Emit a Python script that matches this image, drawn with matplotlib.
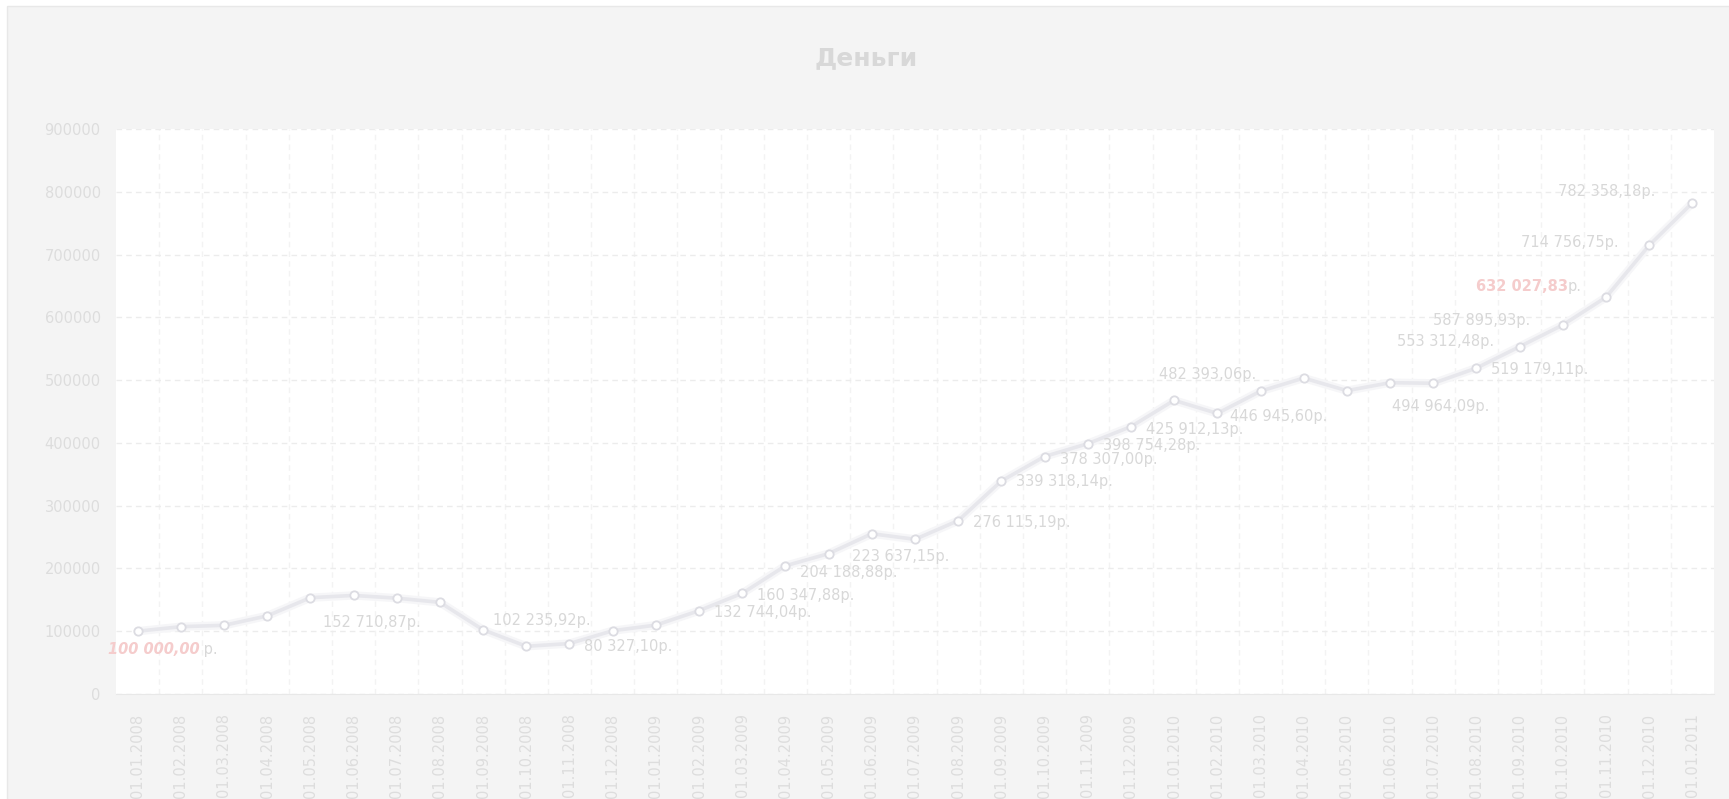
import numpy as np
import matplotlib.pyplot as plt
from matplotlib.patches import Rectangle

# Month starts (categories)
dates = ["01.01.2008", "01.02.2008", "01.03.2008", "01.04.2008", "01.05.2008", "01.06.2008",
         "01.07.2008", "01.08.2008", "01.09.2008", "01.10.2008", "01.11.2008", "01.12.2008",
         "01.01.2009", "01.02.2009", "01.03.2009", "01.04.2009", "01.05.2009", "01.06.2009",
         "01.07.2009", "01.08.2009", "01.09.2009", "01.10.2009", "01.11.2009", "01.12.2009",
         "01.01.2010", "01.02.2010", "01.03.2010", "01.04.2010", "01.05.2010", "01.06.2010",
         "01.07.2010", "01.08.2010", "01.09.2010", "01.10.2010", "01.11.2010", "01.12.2010",
         "01.01.2011"]

# Money values (labelled ones read from the labels, others estimated)
money = [100000.00, 107200, 109400, 124400, 153400, 157000,
         152710.87, 146000, 102235.92, 76000, 80327.10, 100800,
         109700, 132744.04, 160347.88, 204188.88, 223637.15, 255300,
         246400, 276115.19, 339318.14, 378307.00, 398754.28, 425912.13,
         467800, 446945.60, 482393.06, 503300, 483200, 495900,
         494964.09, 519179.11, 553312.48, 587895.93, 632027.83, 714756.75,
         782358.18]

y_ticks = [0, 100000, 200000, 300000, 400000, 500000, 600000, 700000, 800000, 900000]

# which points get a grey value label: index -> (dx px, dy px, ha)
label_pos = {
    6: (-74, -24, "left"),
    8: (10, 9, "left"),
    10: (15, -3, "left"),
    13: (15, -2, "left"),
    14: (15, -2, "left"),
    15: (15, -7, "left"),
    16: (23, -3, "left"),
    19: (15, -2, "left"),
    20: (15, -1, "left"),
    21: (15, -3, "left"),
    22: (15, -2, "left"),
    23: (15, -3, "left"),
    25: (13, -3, "left"),
    26: (-4, 17, "right"),
    30: (-41, -23, "left"),
    31: (15, -1, "left"),
    32: (-26, 5, "right"),
    33: (-33, 4, "right"),
    35: (-31, 3, "right"),
    36: (-37, 11, "right"),
}


def rub(v):
    return f"{v:,.2f}".replace(",", " ").replace(".", ",")


W, H = 1729, 799
fig = plt.figure(figsize=(W / 100, H / 100), dpi=100, facecolor="white")

# grey panel behind everything
fig.patches.append(Rectangle((7 / W, -0.01), 1, 1 - 6 / H + 0.01, transform=fig.transFigure,
                             facecolor="#f4f4f4", edgecolor="#e8e8e8", lw=1, zorder=-10))

ax = fig.add_axes([116 / W, 1 - 694 / H, (1714 - 116) / W, (694 - 129) / H])
ax.set_facecolor("white")

x = np.arange(len(dates))
# faint shadow under the line
ax.plot(x, money, color="#f6f6f8", lw=6, solid_capstyle="round", zorder=2)
ax.plot(x, money, color="#e7e7ec", lw=2.6, marker="o", ms=6, mfc="white",
        mec="#dcdce2", mew=1.3, zorder=3)

ax.set_xlim(-0.5, len(dates) - 0.5)
ax.set_ylim(0, 900000)
ax.set_yticks(y_ticks)
ax.set_yticklabels([str(v) for v in y_ticks])
ax.set_xticks(x)
ax.set_xticklabels(dates, rotation=90)
ax.set_xticks(np.arange(0.5, len(dates) - 1), minor=True)

ax.tick_params(axis="both", which="both", length=0, colors="#dddddd", labelsize=10.5)
ax.tick_params(axis="y", pad=11)
ax.tick_params(axis="x", pad=14)

ax.grid(axis="y", which="major", color="#ececec", ls=(0, (4, 3)), lw=1)
ax.grid(axis="x", which="minor", color="#f3f3f3", ls=(0, (4, 3)), lw=1)
ax.set_axisbelow(True)

for s in ["top", "left", "right"]:
    ax.spines[s].set_visible(False)
ax.spines["bottom"].set_color("#e8e8e8")

# grey value labels
for i, (dx, dy, ha) in label_pos.items():
    ax.annotate(rub(money[i]) + "р.", (i, money[i]), xytext=(dx, dy),
                textcoords="offset pixels", ha=ha, va="center",
                fontsize=10.5, color="#d8d8d8", zorder=4)

# highlighted first value
r0 = ax.annotate(rub(money[0]), (0, money[0]), xytext=(-30, -18),
                 textcoords="offset pixels", ha="left", va="center", fontsize=10.5,
                 color="#f5cccc", fontweight="bold", style="italic", zorder=4)
ax.annotate(" р.", xy=(1, 0.5), xycoords=r0, ha="left", va="center",
            fontsize=10.5, color="#d8d8d8")

# highlighted current value
r1 = ax.annotate(rub(money[34]), (34, money[34]), xytext=(-130, 11),
                 textcoords="offset pixels", ha="left", va="center", fontsize=10.5,
                 color="#f5cccc", fontweight="bold", zorder=4)
ax.annotate("р.", xy=(1, 0.5), xycoords=r1, ha="left", va="center",
            fontsize=10.5, color="#d8d8d8")

fig.text(866 / W, 1 - 58 / H, "Деньги", ha="center", va="center",
         fontsize=18, fontweight="bold", color="#d8d8d8")

fig.savefig("out.png", dpi=100)
